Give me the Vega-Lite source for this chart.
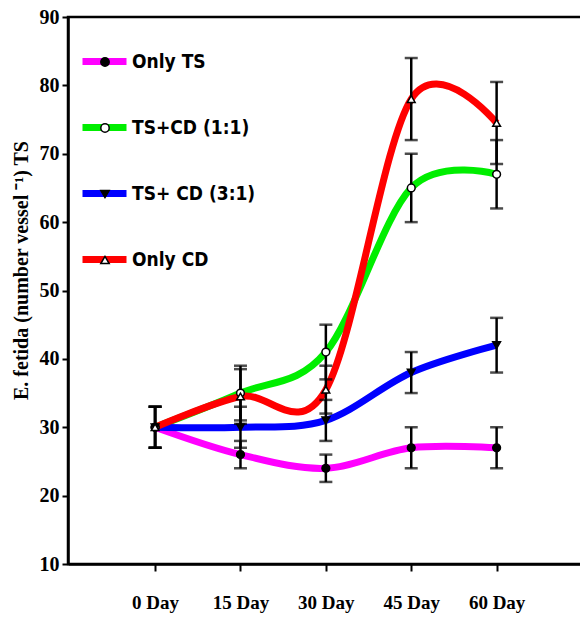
{
  "$schema": "https://vega.github.io/schema/vega-lite/v6.json",
  "autosize": "none",
  "width": 514,
  "height": 547,
  "padding": {"left": 68, "top": 17, "right": 0, "bottom": 54},
  "background": "white",
  "config": {
    "view": {"stroke": "black", "strokeWidth": 2.5},
    "axis": {"domainColor": "black", "domainWidth": 2.5, "tickColor": "black", "tickWidth": 2, "grid": false,
      "labelFont": "Liberation Serif", "labelFontWeight": "bold", "labelColor": "black",
      "titleFont": "Liberation Serif", "titleFontWeight": "bold", "titleColor": "black"}
  },
  "data": {"values": [
    {"series": "Only TS", "day": 0, "value": 30, "lo": 27, "hi": 33},
    {"series": "Only TS", "day": 15, "value": 26, "lo": 24, "hi": 28},
    {"series": "Only TS", "day": 30, "value": 24, "lo": 22, "hi": 26},
    {"series": "Only TS", "day": 45, "value": 27, "lo": 24, "hi": 30},
    {"series": "Only TS", "day": 60, "value": 27, "lo": 24, "hi": 30},
    {"series": "TS+CD (1:1)", "day": 0, "value": 30, "lo": 27, "hi": 33},
    {"series": "TS+CD (1:1)", "day": 15, "value": 35, "lo": 31, "hi": 39},
    {"series": "TS+CD (1:1)", "day": 30, "value": 41, "lo": 37, "hi": 45},
    {"series": "TS+CD (1:1)", "day": 45, "value": 65, "lo": 60, "hi": 70},
    {"series": "TS+CD (1:1)", "day": 60, "value": 67, "lo": 62, "hi": 72},
    {"series": "TS+ CD (3:1)", "day": 0, "value": 30, "lo": 27, "hi": 33},
    {"series": "TS+ CD (3:1)", "day": 15, "value": 30, "lo": 27, "hi": 33},
    {"series": "TS+ CD (3:1)", "day": 30, "value": 31, "lo": 28, "hi": 34},
    {"series": "TS+ CD (3:1)", "day": 45, "value": 38, "lo": 35, "hi": 41},
    {"series": "TS+ CD (3:1)", "day": 60, "value": 42, "lo": 38, "hi": 46},
    {"series": "Only CD", "day": 0, "value": 30, "lo": 27, "hi": 33},
    {"series": "Only CD", "day": 15, "value": 34.5, "lo": 30.5, "hi": 38.5},
    {"series": "Only CD", "day": 30, "value": 35.5, "lo": 32, "hi": 39},
    {"series": "Only CD", "day": 45, "value": 78, "lo": 72, "hi": 84},
    {"series": "Only CD", "day": 60, "value": 74.5, "lo": 68.5, "hi": 80.5}
  ]},
  "encoding": {
    "x": {"field": "day", "type": "quantitative",
      "scale": {"domain": [-15.3, 75], "nice": false, "zero": false},
      "axis": {"values": [0, 15, 30, 45, 60], "labelExpr": "datum.value + ' Day'", "title": null,
        "labelFontSize": 19, "tickSize": 7, "labelPadding": 22}}
  },
  "layer": [
    {
      "mark": {"type": "line", "interpolate": "cardinal", "strokeWidth": 7},
      "encoding": {
        "y": {"field": "value", "type": "quantitative", "title": "E. fetida (number vessel ⁻¹) TS",
          "scale": {"domain": [10, 90], "nice": false, "zero": false},
          "axis": {"values": [10, 20, 30, 40, 50, 60, 70, 80, 90], "labelFontSize": 20, "tickSize": 6, "labelPadding": 3,
            "titleFontSize": 20, "titlePadding": 8, "titleY": 253}},
        "color": {"field": "series", "type": "nominal",
          "sort": ["Only TS", "TS+CD (1:1)", "TS+ CD (3:1)", "Only CD"],
          "scale": {"range": ["#ff00ff", "#00ee00", "#0000ff", "#ff0000"]},
          "legend": {"orient": "none", "legendX": 11, "legendY": 19, "title": null, "padding": 0,
            "symbolType": "stroke", "symbolSize": 1936, "symbolStrokeWidth": 7, "rowPadding": 26,
            "labelFont": "Liberation Sans Narrow, DejaVu Sans Condensed, Liberation Sans", "labelFontWeight": "bold", "labelFontSize": 19,
            "labelColor": "black", "labelOffset": 2}}
      }
    },
    {
      "mark": {"type": "errorbar", "color": "black", "rule": {"strokeWidth": 2.5}, "ticks": {"size": 13, "thickness": 2.5, "color": "black"}},
      "encoding": {
        "y": {"field": "lo", "type": "quantitative", "title": "E. fetida (number vessel ⁻¹) TS"},
        "y2": {"field": "hi"}
      }
    },
    {
      "mark": {"type": "point", "filled": true, "strokeWidth": 1.5, "size": 60, "opacity": 1},
      "encoding": {
        "y": {"field": "value", "type": "quantitative", "title": "E. fetida (number vessel ⁻¹) TS"},
        "shape": {"field": "series", "type": "nominal",
          "scale": {"domain": ["Only TS", "TS+CD (1:1)", "TS+ CD (3:1)", "Only CD"], "range": ["circle", "circle", "triangle-down", "triangle-up"]},
          "legend": {"orient": "none", "legendX": 27, "legendY": 35, "title": null, "padding": 0,
            "symbolSize": 70, "symbolStrokeWidth": 1.5, "rowPadding": 46,
            "labelFontSize": 20, "labelExpr": "''", "labelOffset": 0}},
        "fill": {"field": "series", "type": "nominal",
          "scale": {"domain": ["Only TS", "TS+CD (1:1)", "TS+ CD (3:1)", "Only CD"], "range": ["black", "white", "black", "white"]},
          "legend": {"orient": "none", "legendX": 27, "legendY": 35, "title": null, "padding": 0,
            "symbolSize": 70, "symbolStrokeWidth": 1.5, "rowPadding": 46,
            "labelFontSize": 20, "labelExpr": "''", "labelOffset": 0}},
        "stroke": {"field": "series", "type": "nominal",
          "scale": {"domain": ["Only TS", "TS+CD (1:1)", "TS+ CD (3:1)", "Only CD"], "range": ["black", "black", "black", "black"]},
          "legend": {"orient": "none", "legendX": 27, "legendY": 35, "title": null, "padding": 0,
            "symbolSize": 70, "symbolStrokeWidth": 1.5, "rowPadding": 46,
            "labelFontSize": 20, "labelExpr": "''", "labelOffset": 0}}
      }
    }
  ]
}
